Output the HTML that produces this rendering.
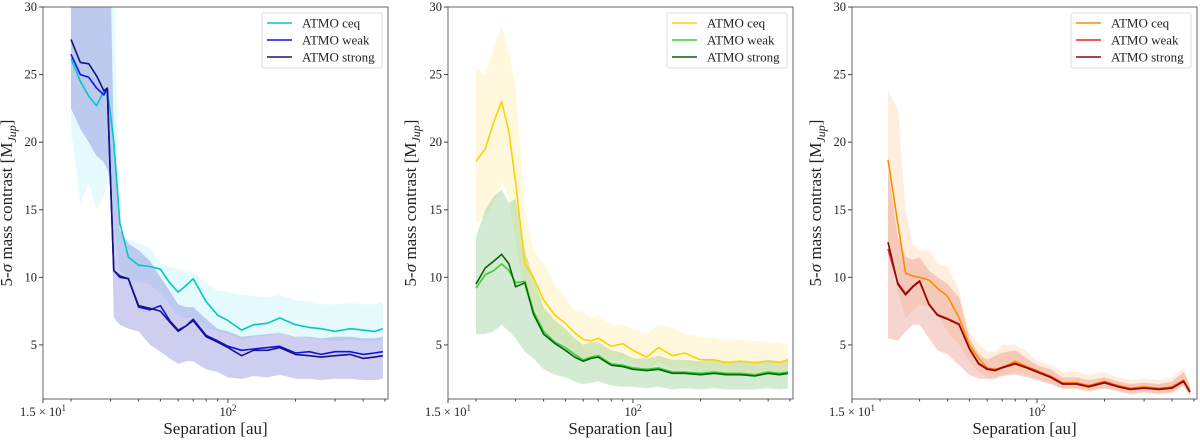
<!DOCTYPE html>
<html><head><meta charset="utf-8">
<style>
body{margin:0;background:#fff;}
svg text{font-family:"Liberation Serif",serif;fill:#222;}
</style></head>
<body>
<svg id="chart" width="1200" height="441" viewBox="0 0 1200 441" xmlns="http://www.w3.org/2000/svg"></svg>
<script>
// ---- data ----
const sepP1 = [20,22,24,26,28,29,30,31,33,36,40,45,50,55,60,65,70,80,90,100,115,130,150,170,200,230,260,300,350,400,450,490];
const p1Ceq =    [26.2,24.5,23.4,22.7,23.8,23.8,22.0,20.0,14.0,11.5,10.9,10.8,10.6,9.6,8.9,9.4,9.9,8.2,7.2,6.8,6.1,6.5,6.6,7.0,6.5,6.3,6.2,6.0,6.2,6.1,6.0,6.2];
const p1Weak =   [26.5,25.0,24.8,24.0,23.5,24.0,17.0,10.5,10.0,9.9,7.8,7.6,7.9,6.8,6.1,6.4,6.9,5.7,5.3,4.9,4.6,4.7,4.8,4.9,4.4,4.5,4.3,4.5,4.5,4.3,4.4,4.5];
const p1Strong = [27.6,25.9,25.8,24.9,23.8,24.0,17.0,10.5,10.1,9.9,7.9,7.7,7.5,6.7,6.0,6.4,6.8,5.6,5.2,4.8,4.2,4.6,4.6,4.8,4.3,4.2,4.1,4.2,4.3,4.0,4.1,4.2];
const p1CeqHi =  [32,32,32,32,32,32,32,32,13.5,12.8,12.5,12.2,11.0,10.8,10.6,10.5,10.3,9.6,9.0,8.9,8.7,8.6,8.5,8.7,8.3,8.2,8.0,8.0,8.1,8.0,8.0,8.2];
const p1CeqLo =  [21,15.5,17,15,16,17,18,14,10.5,10,9.6,9.5,8.8,8.0,7.2,7.0,7.0,6.3,6.0,5.8,5.4,5.6,5.7,5.9,5.6,5.5,5.4,5.3,5.4,5.3,5.3,5.4];
const p1BlueHi = [32,32,32,32,32,32,32,20,13.5,12.5,12,11.2,10,9.0,8.0,7.8,7.8,6.9,6.2,6.0,5.6,5.7,5.8,5.9,5.6,5.6,5.5,5.6,5.6,5.5,5.5,5.6];
const p1BlueLo = [22.5,21,20,19,18.5,18,17,7,6.5,6.2,6.0,5.0,4.5,4.0,3.6,3.8,3.8,3.2,3.0,2.6,2.5,2.7,2.6,2.8,2.5,2.5,2.4,2.5,2.5,2.4,2.4,2.5];

const sepA = [20,22,24,26,28,30,33,36,40,45,50,55,60,65,70,80,90,100,115,130,150,170,200,230,260,300,350,400,450,490];
const p2Ceq =    [18.6,19.5,21.5,23.0,20.8,17.0,11.0,10.0,8.3,7.2,6.6,5.9,5.4,5.3,5.5,4.9,5.1,4.6,4.1,4.8,4.2,4.4,3.9,3.9,3.7,3.8,3.7,3.8,3.7,3.9];
const p2Weak =   [9.2,10.2,10.5,11.0,10.5,9.6,9.7,7.5,6.0,5.2,4.8,4.3,3.9,4.1,4.2,3.6,3.5,3.3,3.2,3.3,3.0,3.0,2.9,3.0,2.9,2.9,2.8,3.0,2.9,3.0];
const p2Strong = [9.5,10.7,11.2,11.7,11.0,9.3,9.6,7.3,5.8,5.1,4.6,4.1,3.8,4.0,4.1,3.5,3.4,3.2,3.1,3.2,2.9,2.9,2.8,2.9,2.8,2.8,2.7,2.9,2.8,2.9];
const p2CeqHi =  [25.5,25.0,27.0,28.6,26.7,24.0,15.0,12.0,11.0,9.5,8.5,7.5,7.5,7.0,7.2,6.5,6.5,6.2,5.8,6.5,6.3,5.8,5.6,5.5,5.3,5.4,5.3,5.2,5.2,5.0];
const p2CeqLo =  [14.0,14.5,15.5,17.0,16.0,12.5,9.0,8.0,6.0,5.5,5.0,4.3,4.0,4.0,4.2,3.8,3.9,3.6,3.1,3.7,3.2,3.3,2.9,2.9,2.8,2.8,2.7,2.8,2.7,2.9];
const p2GreenHi =[13.0,15.0,16.0,16.5,15.5,15.8,12.0,10.0,7.8,6.8,6.2,5.5,5.0,5.2,5.2,4.6,4.4,4.0,4.0,4.2,3.9,3.9,3.8,3.9,3.8,3.8,3.7,3.9,3.8,3.9];
const p2GreenLo =[5.8,5.8,6.0,6.5,6.0,5.5,4.5,4.0,3.2,2.8,2.6,2.3,2.1,2.2,2.3,2.0,1.9,1.9,1.8,1.9,1.7,1.8,1.7,1.8,1.7,1.7,1.7,1.8,1.7,1.8];

const sepC = [21.7,24,26,28,30,33,36,40,45,50,55,60,65,70,80,90,100,115,130,150,170,200,230,260,300,350,400,450,480];
const p3Ceq =    [18.7,14.0,10.3,10.1,10.0,9.8,9.2,8.6,7.0,5.0,4.0,3.3,3.2,3.3,3.8,3.4,3.1,2.7,2.2,2.2,2.0,2.3,2.0,1.8,1.9,1.8,1.9,2.4,1.6];
const p3Weak =   [12.1,9.6,8.8,9.35,9.75,8.05,7.25,6.95,6.55,4.75,3.65,3.25,3.15,3.35,3.65,3.35,3.05,2.65,2.15,2.15,1.95,2.25,1.95,1.75,1.85,1.75,1.85,2.35,1.55];
const p3Strong = [12.6,9.5,8.7,9.3,9.7,8.0,7.2,6.9,6.5,4.7,3.6,3.2,3.1,3.3,3.6,3.3,3.0,2.6,2.1,2.1,1.9,2.2,1.9,1.7,1.8,1.7,1.8,2.3,1.5];
const p3CeqHi =  [23.8,22.5,15.0,12.5,12.0,12.0,11.0,10.8,9.0,6.0,5.0,4.5,4.5,5.0,5.0,4.5,3.8,3.5,3.0,3.0,2.8,3.0,2.6,2.4,2.5,2.4,2.6,3.3,2.2];
const p3CeqLo =  [12.5,9.0,7.0,7.5,8.0,7.8,7.2,6.0,5.0,3.8,3.0,2.6,2.6,2.8,3.0,2.8,2.5,2.2,1.7,1.7,1.5,1.8,1.5,1.3,1.4,1.3,1.4,1.9,1.1];
const p3RedHi =  [18.0,13.0,11.5,11.3,11.5,10.5,10.0,9.5,8.5,5.5,4.3,3.9,4.2,4.4,4.6,4.0,3.5,3.2,2.6,2.6,2.4,2.6,2.3,2.1,2.2,2.1,2.3,3.0,2.0];
const p3RedLo =  [5.5,5.3,6.0,6.5,6.5,5.5,4.6,4.3,3.5,2.8,2.5,2.5,2.5,2.7,2.8,2.6,2.4,2.1,1.8,1.8,1.6,1.8,1.6,1.4,1.5,1.4,1.5,2.0,1.3];

const yTicks = [5,10,15,20,25,30];
const xMinor = [20,30,40,50,60,70,80,90,200,300,400,500];
const legendLabels = ["ATMO ceq","ATMO weak","ATMO strong"];

// ---- drawing ----
const NS="http://www.w3.org/2000/svg";
const svg=document.getElementById('chart');
const TOP=7,BOT=399,W=345,XMIN=15,DEC=224.5,YMIN=1,YMAX=30;
function el(tag,attrs,parent){const e=document.createElementNS(NS,tag);for(const k in attrs)e.setAttribute(k,attrs[k]);(parent||svg).appendChild(e);return e;}
function yS(v){return TOP+(YMAX-v)*(BOT-TOP)/(YMAX-YMIN);}

function panel(idx,left,seps,series,bands,labelX){
  const xS=s=>left+DEC*Math.log10(s/XMIN);
  const g=el('g',{});
  
  
  const cid='clip'+idx;
  const defs=el('defs',{},g);
  const cp=el('clipPath',{id:cid},defs);
  el('rect',{x:left,y:TOP,width:W,height:BOT-TOP},cp);
  const plot=el('g',{'clip-path':'url(#'+cid+')'},g);
  bands.forEach((b,i)=>{
    let d='';
    seps.forEach((s,j)=>{d+=(j?'L':'M')+xS(s).toFixed(1)+','+yS(b.hi[j]).toFixed(1);});
    for(let j=seps.length-1;j>=0;j--)d+='L'+xS(seps[j]).toFixed(1)+','+yS(b.lo[j]).toFixed(1);
    const p=el('path',{d:d+'Z',fill:b.color,'fill-opacity':b.op,stroke:'none'},plot);
    
    
  });
  series.forEach(s=>{
    const pts=seps.map((x,j)=>xS(x).toFixed(1)+','+yS(s.v[j]).toFixed(1)).join(' ');
    const l=el('polyline',{points:pts,fill:'none',stroke:s.color,'stroke-width':1.6,'stroke-linejoin':'round'},plot);
    
    
  });
  const fr=el('rect',{x:left,y:TOP,width:W,height:BOT-TOP,fill:'none',stroke:'#666','stroke-width':1},g);
  
  
  yTicks.forEach(t=>{
    const y=yS(t);
    el('line',{x1:left-4,x2:left,y1:y,y2:y,stroke:'#444'},g);
    const tx=el('text',{x:left-6,y:y+4,'font-size':12.5,'text-anchor':'end'},g);
    tx.textContent=t;
    
    
  });
  xMinor.forEach(t=>{const x=xS(t);if(x<=left+W+0.5)el('line',{x1:x,x2:x,y1:BOT,y2:BOT+2.5,stroke:'#444'},g);});
  [15,100].forEach(t=>{const x=xS(t);el('line',{x1:x,x2:x,y1:BOT,y2:BOT+4,stroke:'#444'},g);});
  const t1=el('text',{x:xS(15),y:BOT+17,'font-size':12.5,'text-anchor':'middle'},g);
  t1.innerHTML='1.5 × 10<tspan dy="-5" font-size="9">1</tspan>';
  
  
  const t2=el('text',{x:xS(100),y:BOT+17,'font-size':12.5,'text-anchor':'middle'},g);
  t2.innerHTML='10<tspan dy="-5" font-size="9">2</tspan>';
  
  
  const xl=el('text',{x:left+W/2,y:434,'font-size':17,'text-anchor':'middle'},g);
  xl.textContent='Separation [au]';
  
  
  const yl=el('text',{x:0,y:0,'font-size':17,'text-anchor':'middle',transform:'translate('+labelX+',203) rotate(-90)'},g);
  yl.innerHTML='5-<tspan font-style="italic">σ</tspan> mass contrast [M<tspan dy="4" font-size="12" font-style="italic">Jup</tspan><tspan dy="-4">]</tspan>';
  
  
  const lg=el('g',{},g);
  
  
  const lx=left+W-126;
  el('rect',{x:lx,y:13,width:120,height:55,fill:'#fff','fill-opacity':0.85,stroke:'#ddd',rx:2},lg);
  series.forEach((s,i)=>{
    const y=23+i*17;
    el('line',{x1:lx+5,x2:lx+30,y1:y,y2:y,stroke:s.color,'stroke-width':1.6},lg);
    const t=el('text',{x:lx+40,y:y+4.5,'font-size':13},lg);
    t.textContent=legendLabels[i];
    
    
  });
}

panel(1,43,sepP1,
  [{name:'ceq',v:p1Ceq,color:'#00c8c8'},{name:'weak',v:p1Weak,color:'#1010e8'},{name:'strong',v:p1Strong,color:'#15157a'}],
  [{name:'ceq',hi:p1CeqHi,lo:p1CeqLo,color:'#7fe8f0',op:0.2},{name:'weak-strong',hi:p1BlueHi,lo:p1BlueLo,color:'#5050c8',op:0.28}],12);
panel(2,448,sepA,
  [{name:'ceq',v:p2Ceq,color:'#ffd000'},{name:'weak',v:p2Weak,color:'#3ccc3c'},{name:'strong',v:p2Strong,color:'#056405'}],
  [{name:'ceq',hi:p2CeqHi,lo:p2CeqLo,color:'#ffe680',op:0.28},{name:'weak-strong',hi:p2GreenHi,lo:p2GreenLo,color:'#60b860',op:0.28}],416);
panel(3,852,sepC,
  [{name:'ceq',v:p3Ceq,color:'#ff8c00'},{name:'weak',v:p3Weak,color:'#ee2020'},{name:'strong',v:p3Strong,color:'#8b0a0a'}],
  [{name:'ceq',hi:p3CeqHi,lo:p3CeqLo,color:'#ffc890',op:0.3},{name:'weak-strong',hi:p3RedHi,lo:p3RedLo,color:'#e07060',op:0.3}],821);
</script>
</body></html>
